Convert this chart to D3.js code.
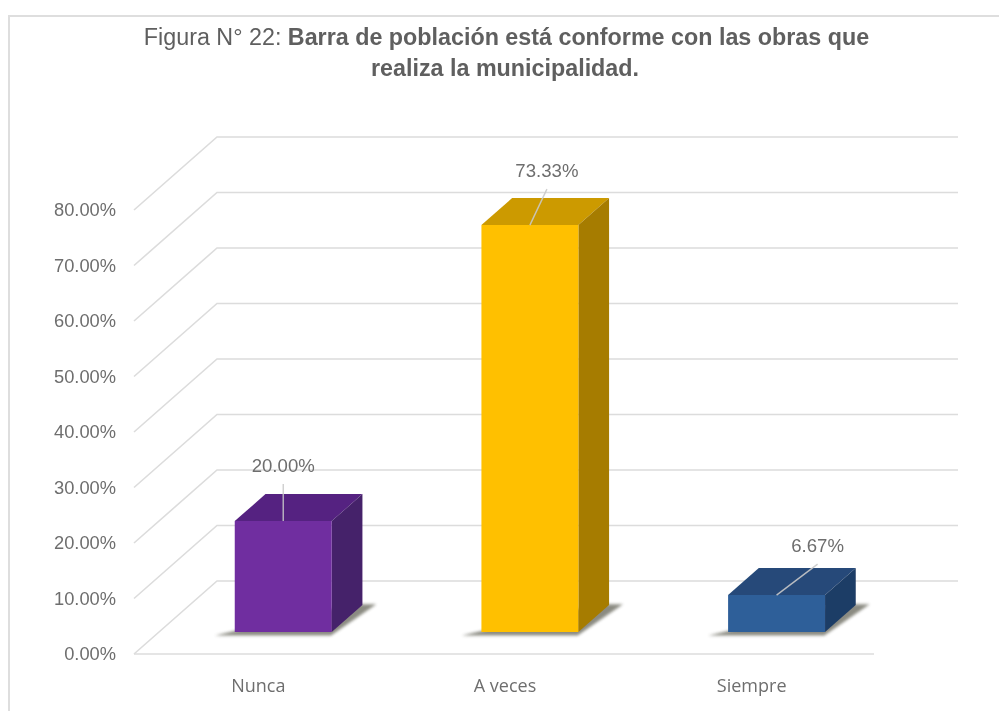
<!DOCTYPE html>
<html><head><meta charset="utf-8">
<script src="https://d3js.org/d3.v7.min.js"></script>
<style>html,body{margin:0;padding:0;background:#fff}svg{display:block}</style>
</head><body><svg id="c" width="999" height="711"></svg>
<script>
const categories = ["Nunca", "A veces", "Siempre"];
const values = [20.00, 73.33, 6.67];
const valueLabels = ["20.00%", "73.33%", "6.67%"];
const tickValues = [0, 10, 20, 30, 40, 50, 60, 70, 80];
const titleLine1Regular = "Figura N° 22: ";
const titleLine1Bold = "Barra de población está conforme con las obras que";
const titleLine2 = "realiza la municipalidad.";
const faceColors = ["#6f2da0", "#ffc000", "#2f5f99"];
const topColors = ["#552181", "#cc9a00", "#254a79"];
const sideColors = ["#45206b", "#a67c00", "#1f3d66"];

const svg = d3.select("#c");
const sansNum = "'Liberation Sans',Arial,sans-serif";
const sansCat = "'Open Sans',sans-serif";
const grey = "#6e6e6e";

// projection geometry of the 3D plot box
const x = d3.scaleBand().domain(categories).range([135, 875]).paddingInner(0.607).paddingOuter(0.3035);
const y = d3.scaleLinear().domain([0, 80]).range([654, 210]);
const depthX = 83, depthY = -73;
const P = (px, v, z) => [px + depthX * z, y(v) + depthY * z];
const zFront = 0.30, zBack = 0.67;

const defs = svg.append("defs");
defs.append("filter").attr("id", "blur").attr("x", "-30%").attr("y", "-100%").attr("width", "160%").attr("height", "300%")
  .append("feGaussianBlur").attr("stdDeviation", 1.6);
defs.append("filter").attr("id", "soft").attr("x", "-5%").attr("y", "-5%").attr("width", "110%").attr("height", "110%")
  .append("feGaussianBlur").attr("stdDeviation", 0.6);
defs.append("filter").attr("id", "txt").attr("x", "-5%").attr("y", "-20%").attr("width", "110%").attr("height", "140%")
  .append("feGaussianBlur").attr("stdDeviation", 0.35);

// frame: top and left edges only
svg.append("path").attr("d", "M9 711V16H999").attr("fill", "none").attr("stroke", "#dedede").attr("stroke-width", 2);

// grid: wall diagonals and back lines
const grid = svg.append("g").attr("fill", "none").attr("stroke", "#dcdcdc").attr("stroke-width", 1.6);
tickValues.forEach(t => {
  const a = P(134, t, 0), b = P(134, t, 1), c = P(875, t, 1);
  grid.append("path").attr("d", d3.line()([a, b, c]));
});
// floor front line
grid.append("path").attr("d", d3.line()([P(134, 0, 0), P(874, 0, 0)]));

// value axis through d3.axisLeft
const axis = d3.axisLeft(y).tickValues(tickValues).tickFormat(d => d.toFixed(2) + "%").tickSize(0).tickPadding(0);
const ga = svg.append("g").attr("transform", "translate(116,0)").call(axis);
ga.select(".domain").remove();
ga.selectAll("text").attr("font-family", sansNum).attr("font-size", 18.3).attr("fill", grey).attr("filter", "url(#txt)");

// category axis
const axb = d3.axisBottom(x).tickSize(0).tickPadding(0);
const gb = svg.append("g").attr("transform", "translate(0,679)").call(axb);
gb.select(".domain").remove();
gb.selectAll("text").attr("font-family", sansCat).attr("font-size", 18).attr("fill", grey).attr("dy", "0.71em").attr("filter", "url(#txt)");

// bars
const bars = svg.append("g");
const poly = pts => "M" + pts.map(p => p.join(",")).join("L") + "Z";
const labelOffset = [[0, -37], [17, -36], [41, -31]];
categories.forEach((c, i) => {
  const l = x(c), r = l + x.bandwidth(), v = values[i];
  const g = bars.append("g");
  // floor shadow
  g.append("path").attr("d", poly([
    P(l - 16, 0, zFront - 0.045), P(r + 3, 0, zFront - 0.045), P(r + 13, 0, zBack + 0.01), P(r - 10, 0, zBack + 0.01)
  ])).attr("fill", "#7f7f74").attr("opacity", .9).attr("filter", "url(#blur)");
  const b = g.append("g").attr("filter", "url(#soft)");
  b.append("path").attr("d", poly([P(l, v, zFront), P(r, v, zFront), P(r, v, zBack), P(l, v, zBack)])).attr("fill", topColors[i]);
  b.append("path").attr("d", poly([P(r, 0, zFront), P(r, v, zFront), P(r, v, zBack), P(r, 0, zBack)])).attr("fill", sideColors[i]);
  b.append("path").attr("d", poly([P(l, 0, zFront), P(r, 0, zFront), P(r, v, zFront), P(l, v, zFront)])).attr("fill", faceColors[i]);
  // leader and data label
  const s = P((l + r) / 2, v, zFront);
  const e = [s[0] + labelOffset[i][0], s[1] + labelOffset[i][1]];
  g.append("line").attr("x1", s[0]).attr("y1", s[1]).attr("x2", e[0]).attr("y2", e[1])
    .attr("stroke", "#c9c9c9").attr("stroke-width", 1.4).attr("opacity", .9);
  g.append("text").attr("x", e[0]).attr("y", e[1] - 12).attr("text-anchor", "middle")
    .attr("font-family", sansNum).attr("font-size", 18.6).attr("fill", grey).attr("filter", "url(#txt)").text(valueLabels[i]);
});

// title
const t1 = svg.append("text").attr("x", 506.5).attr("y", 45).attr("text-anchor", "middle")
  .attr("font-family", sansNum).attr("font-size", 23.3).attr("fill", "#5f5f5f").attr("filter", "url(#txt)");
t1.append("tspan").text(titleLine1Regular);
t1.append("tspan").attr("font-weight", "bold").text(titleLine1Bold);
svg.append("text").attr("x", 505).attr("y", 76).attr("text-anchor", "middle")
  .attr("font-family", sansNum).attr("font-size", 23.3).attr("font-weight", "bold").attr("fill", "#5f5f5f").attr("filter", "url(#txt)").text(titleLine2);
</script></body></html>
